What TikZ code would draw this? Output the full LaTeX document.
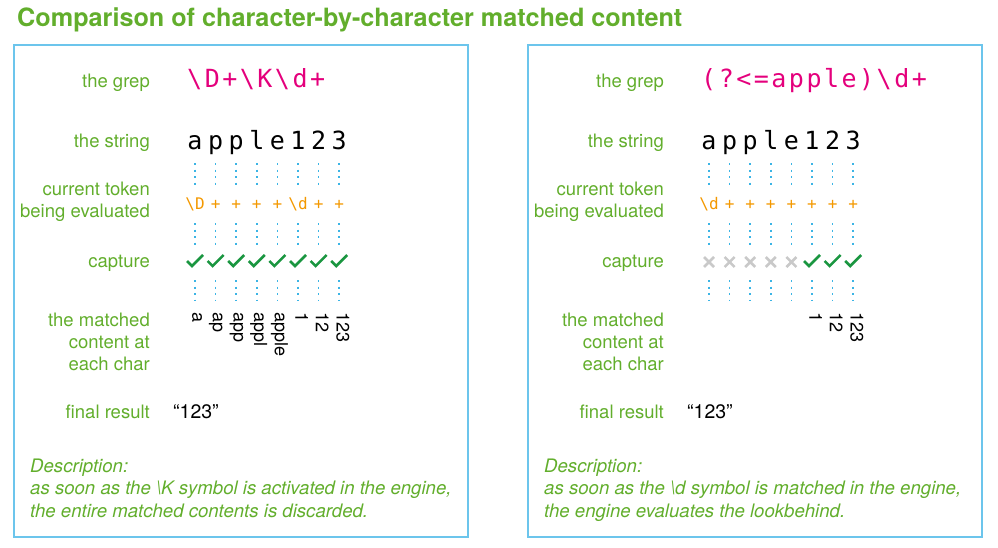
\documentclass[tikz,border=0pt]{standalone}
\usepackage{fontspec}
\setmainfont{TeX Gyre Heros}
\newfontfamily\grepfont[LetterSpace=10]{DejaVu Sans Mono}
\newfontfamily\codefont{DejaVu Sans Mono}
\usetikzlibrary{positioning}

\definecolor{labelgreen}{HTML}{62AE2C}
\definecolor{grepmagenta}{HTML}{E4007C}
\definecolor{tokenorange}{HTML}{F39800}
\definecolor{guideblue}{HTML}{3BB4E5}
\definecolor{panelblue}{HTML}{6CC5EC}
\definecolor{checkgreen}{HTML}{1A9640}
\definecolor{crossgrey}{HTML}{C9C9C9}

\tikzset{
  title/.style={text=labelgreen, inner sep=0pt, font=\fontsize{25.2}{30}\selectfont\bfseries},
  panel/.style={draw=panelblue, line width=1.7pt},
  rowlabel/.style={text=labelgreen, anchor=base east, align=right, inner sep=0pt,
    font=\fontsize{18.5}{22}\selectfont},
  regex/.style={text=grepmagenta, anchor=base west, inner sep=0pt, font=\grepfont\fontsize{25}{25}\selectfont},
  strchar/.style={anchor=base, inner sep=0pt, text height=18pt, text depth=0pt,
    font=\codefont\fontsize{25}{25}\selectfont},
  token/.style={text=tokenorange, anchor=base, inner sep=0pt, text height=13pt, text depth=3pt,
    font=\codefont\fontsize{16}{16}\selectfont},
  matched/.style={rotate=-90, anchor=mid west, inner sep=0pt, font=\fontsize{18}{18}\selectfont},
  result/.style={anchor=base west, inner sep=0pt, font=\fontsize{19.5}{22}\selectfont},
  desc/.style={text=labelgreen, anchor=base west, align=left, inner sep=0pt,
    font=\fontsize{18.6}{22.5}\selectfont\itshape},
  guide/.style={draw=guideblue, line width=1.5pt, dash pattern=on 2pt off 4.5pt},
  pics/checkmark/.style={code={\draw[checkgreen, line width=2.6pt] (-8,-1) -- (-3,4) -- (8,-7);}},
  pics/crossmark/.style={code={\draw[crossgrey, line width=2.6pt] (-5,-5) -- (5,5) (-5,5) -- (5,-5);}}
}

\begin{document}
\begin{tikzpicture}[x=1pt,y=-1pt]
\useasboundingbox (0,0) rectangle (998,548);
\node[title, anchor=base west] (title) at (17,27) {Comparison of character-by-character matched content};

% left panel: \D+\K\d+
\node[panel, anchor=north west, minimum width=454pt, minimum height=492pt] (leftpanel) at (13,44) {};
\node[rowlabel] (Lgreplabel) at (150,88) {the grep};
\node[rowlabel] (Lstrlabel) at (150,148) {the string};
\node[rowlabel] (Ltoklabel) at (150,218) {current token\\being evaluated};
\node[rowlabel] (Lcaplabel) at (150,267) {capture};
\node[rowlabel] (Lmatchlabel) at (150,370) {the matched\\content at\\each char};
\node[rowlabel] (Lfinallabel) at (150,418) {final result};

\node[regex] (Lgrep) at (187,88) {\textbackslash D+\textbackslash K\textbackslash d+};
\foreach \ch [count=\i] in {a,p,p,l,e,1,2,3}
  \node[strchar] (Ls\i) at ({195+20.6*(\i-1)},150) {\ch};
\foreach \tk [count=\i] in {\textbackslash D,+,+,+,+,\textbackslash d,+,+}
  \node[token] (Lt\i) at ({195+20.6*(\i-1)},209) {\tk};
\foreach \i in {1,...,8} {
  \coordinate (Lc\i) at ({195+20.6*(\i-1)},262);
  \coordinate (Lk\i) at ({195+20.6*(\i-1)},312);
  \pic at (Lc\i) {checkmark};
}
\foreach \txt [count=\i] in {a,ap,app,appl,apple,1,12,123}
  \node[matched] (Lm\i) at (Lk\i) {\txt};
\foreach \i in {1,...,8} {
  \draw[guide, shorten <=13pt, shorten >=11pt] (Ls\i.south) -- (Lt\i.north);
  \draw[guide, shorten <=11pt, shorten >=17pt] (Lt\i.south) -- (Lc\i);
  \draw[guide, shorten <=18pt, shorten >=12pt] (Lc\i) -- (Lk\i);
}
\node[result] (Lfinal) at (173,418) {“123”};
\node[desc] (Ldesc) at (30,517) {Description:\\as soon as the \textbackslash K symbol is activated in the engine,\\the entire matched contents is discarded.};

% right panel: (?<=apple)\d+
\begin{scope}[xshift=514pt]
\node[panel, anchor=north west, minimum width=454pt, minimum height=492pt] (rightpanel) at (13,44) {};
\node[rowlabel] (Rgreplabel) at (150,88) {the grep};
\node[rowlabel] (Rstrlabel) at (150,148) {the string};
\node[rowlabel] (Rtoklabel) at (150,218) {current token\\being evaluated};
\node[rowlabel] (Rcaplabel) at (150,267) {capture};
\node[rowlabel] (Rmatchlabel) at (150,370) {the matched\\content at\\each char};
\node[rowlabel] (Rfinallabel) at (150,418) {final result};

\node[regex] (Rgrep) at (187,88) {(?<=apple)\textbackslash d+};
\foreach \ch [count=\i] in {a,p,p,l,e,1,2,3}
  \node[strchar] (Rs\i) at ({195+20.6*(\i-1)},150) {\ch};
\foreach \tk [count=\i] in {\textbackslash d,+,+,+,+,+,+,+}
  \node[token] (Rt\i) at ({195+20.6*(\i-1)},209) {\tk};
\foreach \i in {1,...,8} {
  \coordinate (Rc\i) at ({195+20.6*(\i-1)},262);
  \coordinate (Rk\i) at ({195+20.6*(\i-1)},312);
}
\foreach \i in {1,...,5} \pic at (Rc\i) {crossmark};
\foreach \i in {6,7,8} \pic at (Rc\i) {checkmark};
\foreach \txt [count=\i from 6] in {1,12,123}
  \node[matched] (Rm\i) at (Rk\i) {\txt};
\foreach \i in {1,...,8} {
  \draw[guide, shorten <=13pt, shorten >=11pt] (Rs\i.south) -- (Rt\i.north);
  \draw[guide, shorten <=11pt, shorten >=17pt] (Rt\i.south) -- (Rc\i);
  \draw[guide, shorten <=18pt, shorten >=12pt] (Rc\i) -- (Rk\i);
}
\node[result] (Rfinal) at (173,418) {“123”};
\node[desc] (Rdesc) at (30,517) {Description:\\as soon as the \textbackslash d symbol is matched in the engine,\\the engine evaluates the lookbehind.};
\end{scope}
\end{tikzpicture}
\end{document}
